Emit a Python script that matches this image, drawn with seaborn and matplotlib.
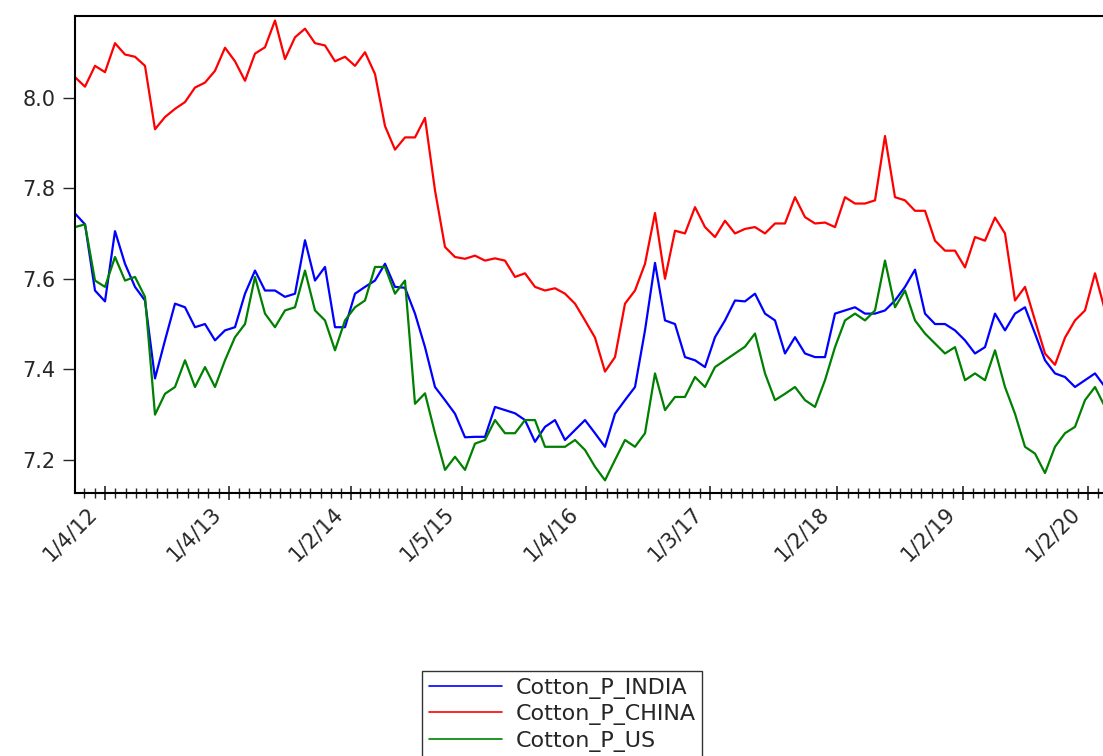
import numpy as np
import pandas as pd
import seaborn as sns
import matplotlib.pyplot as plt
from matplotlib.transforms import ScaledTranslation

india = [7.744, 7.72, 7.574, 7.55, 7.705, 7.633, 7.582, 7.552, 7.38, 7.464,
         7.545, 7.537, 7.493, 7.5, 7.464, 7.486, 7.493, 7.567, 7.618, 7.574,
         7.574, 7.56, 7.567, 7.685, 7.596, 7.626, 7.493, 7.493, 7.567, 7.582,
         7.596, 7.633, 7.582, 7.58, 7.523, 7.449, 7.361, 7.332, 7.302, 7.25,
         7.251, 7.251, 7.317, 7.31, 7.303, 7.288, 7.24, 7.273, 7.288, 7.244,
         7.266, 7.288, 7.259, 7.229, 7.302, 7.332, 7.361, 7.486, 7.635, 7.508,
         7.5, 7.427, 7.42, 7.405, 7.471, 7.508, 7.552, 7.55, 7.567, 7.523,
         7.508, 7.435, 7.471, 7.435, 7.427, 7.427, 7.523, 7.53, 7.537, 7.523,
         7.523, 7.53, 7.552, 7.582, 7.62, 7.523, 7.5, 7.5, 7.486, 7.464,
         7.435, 7.449, 7.523, 7.486, 7.523, 7.537, 7.479, 7.42, 7.391, 7.383,
         7.361, 7.376, 7.391, 7.361]
china = [8.045, 8.024, 8.07, 8.056, 8.12, 8.095, 8.09, 8.07, 7.93, 7.957,
         7.975, 7.99, 8.022, 8.033, 8.059, 8.11, 8.08, 8.037, 8.097, 8.111,
         8.17, 8.085, 8.133, 8.152, 8.12, 8.115, 8.08, 8.09, 8.07, 8.1,
         8.052, 7.937, 7.885, 7.912, 7.912, 7.955, 7.795, 7.67, 7.648, 7.644,
         7.651, 7.64, 7.645, 7.64, 7.604, 7.612, 7.582, 7.574, 7.579, 7.567,
         7.545, 7.508, 7.47, 7.395, 7.427, 7.545, 7.574, 7.633, 7.745, 7.6,
         7.706, 7.7, 7.758, 7.714, 7.692, 7.728, 7.7, 7.71, 7.714, 7.7,
         7.722, 7.722, 7.78, 7.736, 7.722, 7.724, 7.714, 7.78, 7.766, 7.766,
         7.773, 7.915, 7.78, 7.773, 7.75, 7.75, 7.684, 7.662, 7.662, 7.625,
         7.692, 7.684, 7.735, 7.7, 7.552, 7.582, 7.508, 7.435, 7.41, 7.47,
         7.508, 7.53, 7.612, 7.53]
us = [7.714, 7.72, 7.596, 7.582, 7.648, 7.596, 7.604, 7.56, 7.3, 7.346,
      7.361, 7.42, 7.361, 7.405, 7.361, 7.42, 7.471, 7.5, 7.604, 7.523,
      7.493, 7.53, 7.537, 7.618, 7.53, 7.508, 7.442, 7.508, 7.537, 7.552,
      7.626, 7.626, 7.567, 7.596, 7.324, 7.347, 7.259, 7.178, 7.207, 7.178,
      7.236, 7.244, 7.288, 7.259, 7.259, 7.288, 7.288, 7.229, 7.229, 7.229,
      7.244, 7.222, 7.185, 7.155, 7.2, 7.244, 7.229, 7.259, 7.391, 7.31,
      7.339, 7.339, 7.383, 7.361, 7.405, 7.42, 7.435, 7.45, 7.479, 7.391,
      7.332, 7.346, 7.361, 7.332, 7.317, 7.376, 7.449, 7.508, 7.523, 7.508,
      7.53, 7.64, 7.537, 7.574, 7.508, 7.479, 7.457, 7.435, 7.449, 7.376,
      7.391, 7.376, 7.442, 7.361, 7.302, 7.229, 7.214, 7.171, 7.229, 7.259,
      7.273, 7.332, 7.361, 7.317]

tick_obs = [60, 308, 552, 774, 1022, 1270, 1524, 1776, 2026]
tick_labels = ["1/4/12", "1/4/13", "1/2/14", "1/5/15", "1/4/16",
               "1/3/17", "1/2/18", "1/2/19", "1/2/20"]
names = ["Cotton_P_INDIA", "Cotton_P_CHINA", "Cotton_P_US"]
colors = ["#0000ff", "#ff0000", "#008000"]

obs = np.arange(len(india)) * 20
df = pd.DataFrame({"obs": obs, names[0]: india, names[1]: china, names[2]: us})
long = df.melt(id_vars="obs", var_name="series", value_name="value")

sns.set_style("ticks")
plt.rcParams["font.family"] = ["DejaVu Sans"]

fig = plt.figure(figsize=(11.03, 7.56), dpi=100)
ax = fig.add_axes([75 / 1103, 1 - 493 / 756, 1028 / 1103, 477 / 756])

sns.lineplot(data=long, x="obs", y="value", hue="series", hue_order=names,
             palette=colors, linewidth=1.6, estimator=None, sort=False,
             legend=False, ax=ax)

ax.set_xlim(0, 2056)
ax.set_ylim(7.127, 8.18)
ax.set_xlabel("")
ax.set_ylabel("")
ax.set_yticks([7.2, 7.4, 7.6, 7.8, 8.0])
ax.set_yticklabels(["7.2", "7.4", "7.6", "7.8", "8.0"])

# minor ticks roughly monthly between the yearly labels
step = (tick_obs[1] - tick_obs[0]) / 12
minor = list(np.arange(tick_obs[0] - step, 0, -step))
for a, b in zip(tick_obs[:-1], tick_obs[1:]):
    minor += list(np.linspace(a, b, 13)[1:-1])
minor += list(np.arange(tick_obs[-1] + step, 2056, step))
ax.set_xticks(tick_obs)
ax.set_xticks(minor, minor=True)

ax.tick_params(axis="x", which="major", direction="inout", length=10,
               width=1.2, labelsize=15, pad=4)
ax.tick_params(axis="x", which="minor", direction="inout", length=7, width=1)
ax.tick_params(axis="y", direction="out", length=9, width=1, labelsize=15,
               pad=5)
ax.set_xticklabels(tick_labels, rotation=45, ha="right", va="top",
                   rotation_mode="anchor")
shift = ScaledTranslation(-0.18, 0.02, fig.dpi_scale_trans)
for lab in ax.get_xticklabels():
    lab.set_transform(lab.get_transform() + shift)

for s in ["left", "bottom", "top"]:
    ax.spines[s].set_linewidth(1.5)
    ax.spines[s].set_color("black")
ax.spines["right"].set_visible(False)

handles = [plt.Line2D([], [], color=c, linewidth=1.2) for c in colors]
leg = fig.legend(handles, names, loc="upper left",
                 bbox_to_anchor=(422 / 1103, 1 - 671 / 756),
                 borderaxespad=0, fontsize=16, frameon=True, fancybox=False,
                 handlelength=3.3, handletextpad=0.6, labelspacing=0.25,
                 borderpad=0.3)
leg.get_frame().set_edgecolor("black")
leg.get_frame().set_linewidth(1)

fig.savefig("out.png", dpi=100)
